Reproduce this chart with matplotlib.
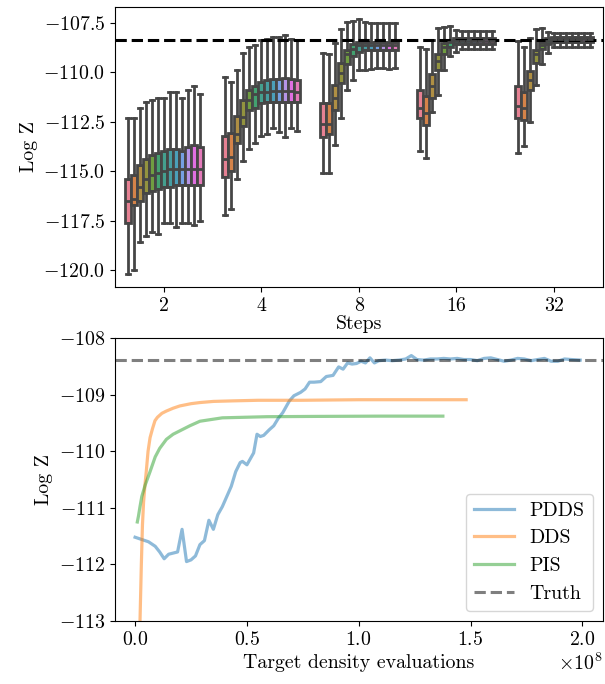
import numpy as np
import matplotlib
matplotlib.use("Agg")
import matplotlib.pyplot as plt
import seaborn as sns

plt.rcParams["font.family"] = "serif"
plt.rcParams["font.serif"] = ["cmr10", "DejaVu Serif"]
plt.rcParams["mathtext.fontset"] = "cm"
plt.rcParams["axes.formatter.use_mathtext"] = True
plt.rcParams["font.size"] = 14.3
plt.rcParams["axes.unicode_minus"] = True

truth = -108.38

# ---- top panel: box stats per number of steps (13 hue levels each)
steps = ["2", "4", "8", "16", "32"]

whis_hi = [
    [-112.3, -112.3, -111.8, -111.5, -111.4, -111.3, -111.3, -111.0, -111.0, -111.3, -110.9, -110.7, -111.1],
    [-110.25, -110.5, -109.9, -109.0, -108.7, -108.6, -108.35, -108.3, -108.2, -108.2, -108.1, -108.3, -108.35],
    [-109.0, -109.1, -108.5, -107.8, -107.45, -107.4, -107.3, -107.45, -107.5, -107.5, -107.5, -107.5, -107.5],
    [-108.7, -108.8, -108.35, -107.75, -107.7, -107.65, -107.85, -107.9, -107.9, -107.9, -107.9, -107.9, -107.9],
    [-108.4, -108.7, -108.25, -107.8, -107.75, -107.95, -108.0, -108.0, -108.0, -108.0, -108.0, -108.0, -108.0],
]
q3 = [
    [-115.4, -115.2, -114.7, -114.4, -114.2, -114.1, -114.0, -113.9, -113.9, -114.0, -113.8, -113.7, -113.8],
    [-113.2, -113.05, -112.2, -111.4, -110.9, -110.7, -110.5, -110.4, -110.35, -110.35, -110.3, -110.35, -110.4],
    [-111.55, -111.55, -110.65, -109.55, -108.85, -108.55, -108.45, -108.45, -108.45, -108.45, -108.45, -108.45, -108.45],
    [-110.9, -111.2, -110.1, -109.1, -108.5, -108.35, -108.25, -108.25, -108.25, -108.25, -108.25, -108.25, -108.25],
    [-110.7, -111.0, -109.95, -108.85, -108.45, -108.25, -108.2, -108.2, -108.2, -108.2, -108.2, -108.2, -108.2],
]
medians = [
    [-116.5, -116.4, -115.8, -115.4, -115.2, -115.1, -115.0, -114.9, -114.9, -114.9, -114.9, -114.9, -114.9],
    [-114.4, -114.3, -113.1, -112.25, -111.4, -111.1, -111.0, -111.0, -110.95, -110.95, -110.95, -110.95, -111.0],
    [-112.6, -112.6, -111.3, -110.05, -109.1, -108.8, -108.6, -108.6, -108.6, -108.6, -108.6, -108.6, -108.6],
    [-111.8, -112.05, -110.7, -109.45, -108.7, -108.45, -108.4, -108.4, -108.4, -108.4, -108.4, -108.4, -108.4],
    [-111.7, -111.8, -110.4, -109.1, -108.6, -108.4, -108.33, -108.33, -108.33, -108.33, -108.33, -108.33, -108.33],
]
q1 = [
    [-117.6, -116.7, -116.5, -116.1, -116.0, -115.9, -115.8, -115.8, -115.7, -115.7, -115.7, -115.7, -115.7],
    [-115.3, -115.0, -113.6, -112.7, -111.9, -111.8, -111.55, -111.5, -111.5, -111.5, -111.5, -111.5, -111.5],
    [-113.25, -113.1, -111.9, -110.55, -109.6, -109.2, -108.95, -108.85, -108.85, -108.85, -108.85, -108.85, -108.85],
    [-112.3, -112.65, -111.3, -109.9, -109.05, -108.7, -108.55, -108.55, -108.55, -108.55, -108.55, -108.55, -108.55],
    [-112.3, -112.4, -110.9, -109.55, -108.8, -108.55, -108.45, -108.45, -108.45, -108.45, -108.45, -108.45, -108.45],
]
whis_lo = [
    [-120.2, -120.0, -118.6, -118.3, -118.1, -118.2, -117.6, -117.6, -117.8, -117.6, -117.6, -117.7, -117.5],
    [-117.2, -116.9, -115.4, -114.5, -113.9, -113.6, -113.2, -113.1, -112.8, -113.0, -113.25, -112.8, -112.95],
    [-115.1, -115.1, -113.7, -112.3, -110.9, -110.4, -109.9, -109.9, -109.85, -109.8, -109.8, -109.85, -109.8],
    [-114.0, -114.35, -112.0, -111.15, -109.9, -109.2, -108.95, -108.8, -108.8, -108.8, -108.8, -108.8, -108.8],
    [-114.1, -113.75, -112.5, -110.65, -109.6, -109.0, -108.7, -108.7, -108.7, -108.7, -108.7, -108.7, -108.7],
]

# ---- bottom panel: log Z vs target density evaluations (x in units of 1e8)
pdds_x = [0.00, 0.03, 0.06, 0.09, 0.11, 0.13, 0.15, 0.17, 0.19, 0.21, 0.23, 0.25, 0.27, 0.29,
          0.31, 0.33, 0.35, 0.37, 0.39, 0.41, 0.43, 0.45, 0.47, 0.48, 0.50, 0.53, 0.545, 0.56,
          0.575, 0.60, 0.62, 0.64, 0.66, 0.69, 0.71, 0.74, 0.76, 0.78, 0.80, 0.83, 0.855, 0.885,
          0.91, 0.93, 0.95, 0.97, 0.99, 1.01, 1.03, 1.05, 1.07, 1.09, 1.12, 1.15, 1.18, 1.21,
          1.235, 1.26, 1.29, 1.32, 1.35, 1.38, 1.41, 1.44, 1.47, 1.50, 1.53, 1.56, 1.59, 1.62,
          1.65, 1.68, 1.71, 1.74, 1.77, 1.80, 1.83, 1.86, 1.89, 1.92, 1.95, 1.99]
pdds_y = [-111.52, -111.56, -111.6, -111.68, -111.78, -111.9, -111.82, -111.8, -111.78, -111.38,
          -111.95, -111.92, -111.85, -111.65, -111.58, -111.22, -111.38, -111.12, -110.98, -110.8,
          -110.62, -110.36, -110.2, -110.18, -110.24, -110.03, -109.7, -109.74, -109.72, -109.62,
          -109.55, -109.42, -109.32, -109.11, -109.02, -108.96, -108.9, -108.78, -108.78, -108.77,
          -108.68, -108.66, -108.51, -108.55, -108.44, -108.46, -108.45, -108.41, -108.44, -108.35,
          -108.44, -108.4, -108.39, -108.40, -108.39, -108.37, -108.31, -108.38, -108.39, -108.37,
          -108.37, -108.36, -108.37, -108.36, -108.38, -108.38, -108.40, -108.36, -108.35, -108.38,
          -108.41, -108.39, -108.36, -108.37, -108.40, -108.38, -108.36, -108.41, -108.41, -108.37,
          -108.38, -108.39]

dds_x = [0.005, 0.015, 0.022, 0.028, 0.033, 0.038, 0.044, 0.05, 0.058, 0.067, 0.078, 0.089,
         0.10, 0.12, 0.14, 0.17, 0.20, 0.25, 0.29, 0.35, 0.44, 0.55, 0.74, 1.0, 1.25, 1.48]
dds_y = [-117.0, -114.5, -113.0, -112.0, -111.3, -110.9, -110.6, -110.36, -110.0, -109.76,
         -109.6, -109.46, -109.4, -109.33, -109.29, -109.24, -109.2, -109.16, -109.14, -109.12,
         -109.11, -109.10, -109.1, -109.09, -109.09, -109.09]

pis_x = [0.01, 0.015, 0.022, 0.03, 0.045, 0.067, 0.09, 0.11, 0.14, 0.17, 0.20, 0.245, 0.29,
         0.34, 0.39, 0.49, 0.59, 0.8, 1.1, 1.376]
pis_y = [-111.25, -111.15, -110.98, -110.8, -110.6, -110.36, -110.1, -109.95, -109.79, -109.7,
         -109.64, -109.55, -109.47, -109.44, -109.41, -109.4, -109.39, -109.385, -109.38, -109.38]

fig = plt.figure(figsize=(6.05, 6.84), dpi=100)
ax1 = fig.add_axes([0.19, 0.5804, 0.806, 0.4096])
ax2 = fig.add_axes([0.19, 0.0921, 0.806, 0.4137])

# top: dodged boxes like seaborn's hue boxplot
n_hue = len(q1[0])
pal = [sns.desaturate(c, 0.75) for c in sns.color_palette("husl", n_hue)]
gray = "#464646"
w = 0.8 / n_hue
for g in range(len(steps)):
    stats = []
    pos = []
    for h in range(n_hue):
        stats.append(dict(med=medians[g][h], q1=q1[g][h], q3=q3[g][h],
                          whislo=whis_lo[g][h], whishi=whis_hi[g][h], fliers=[]))
        pos.append(g - 0.4 + w * (h + 0.5))
    art = ax1.bxp(stats, positions=pos, widths=w, capwidths=w * 0.7,
                  patch_artist=True, showfliers=False, manage_ticks=False,
                  boxprops=dict(edgecolor=gray, linewidth=2.0),
                  whiskerprops=dict(color=gray, linewidth=2.0),
                  capprops=dict(color=gray, linewidth=2.0),
                  medianprops=dict(color=gray, linewidth=2.0))
    for b, c in zip(art["boxes"], pal):
        b.set_facecolor(c)

ax1.axhline(truth, color="black", ls="--", lw=2.2)
ax1.set_xlim(-0.5, 4.5)
ax1.set_ylim(-120.86, -106.69)
ax1.set_xticks(range(len(steps)))
ax1.set_xticklabels(steps)
ax1.set_yticks(np.arange(-120.0, -107.0, 2.5))
ax1.set_xlabel("Steps", labelpad=0)
ax1.set_ylabel("Log Z")

# bottom
ax2.plot(np.array(pdds_x) * 1e8, pdds_y, color="tab:blue", alpha=0.5, lw=2.3, label="PDDS")
ax2.plot(np.array(dds_x) * 1e8, dds_y, color="tab:orange", alpha=0.5, lw=2.3, label="DDS")
ax2.plot(np.array(pis_x) * 1e8, pis_y, color="tab:green", alpha=0.5, lw=2.3, label="PIS")
ax2.axhline(truth, color="black", alpha=0.5, ls="--", lw=2.2, label="Truth")
ax2.set_xlim(-0.09e8, 2.09e8)
ax2.set_ylim(-113, -108)
ax2.set_xticks(np.arange(0, 2.01e8, 0.5e8))
ax2.set_xlabel("Target density evaluations")
ax2.set_ylabel("Log Z")
ax2.legend(loc="lower right")

fig.savefig("out.png", dpi=100)
